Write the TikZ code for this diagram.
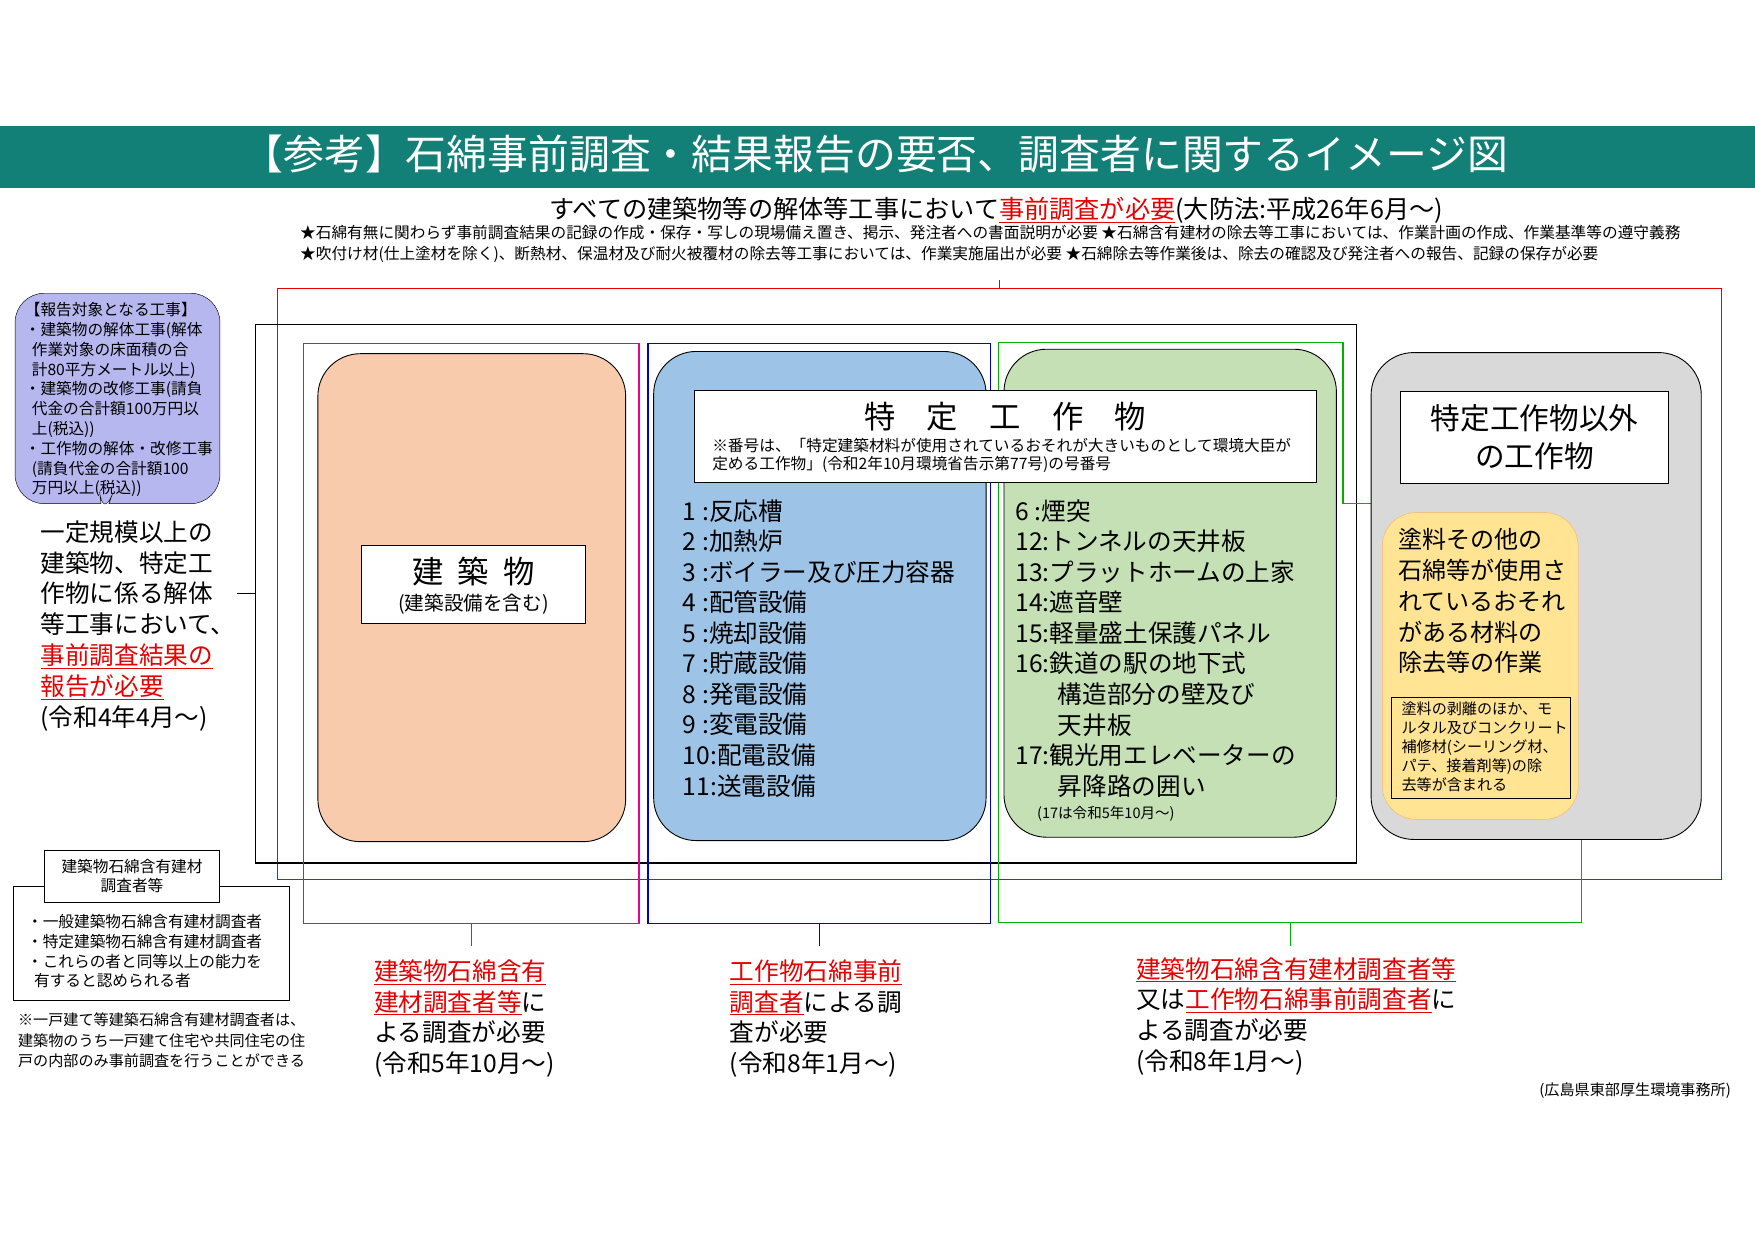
\documentclass[tikz,border=0pt]{standalone}
\usepackage{fontspec}
\setmainfont{Noto Sans CJK JP}
\usetikzlibrary{shapes.callouts}
\definecolor{teal}{RGB}{18,128,118}
\definecolor{peach}{RGB}{247,203,172}
\definecolor{sky}{RGB}{157,195,230}
\definecolor{mint}{RGB}{197,224,180}
\definecolor{lgray}{RGB}{217,217,217}
\definecolor{lav}{RGB}{183,183,240}
\definecolor{gold}{RGB}{255,217,102}
\definecolor{rd}{RGB}{230,0,0}
\newcommand{\ru}[1]{\textcolor{rd}{\underline{#1}}}
\tikzset{
 rbox/.style={draw=black,rounded corners=38pt,line width=0.8pt},
 wbox/.style={draw=black,fill=white,line width=0.8pt,align=center},
 txt/.style={align=left,anchor=north west,inner sep=0pt},
}
\begin{document}
\begin{tikzpicture}[x=1pt,y=-1pt]
\useasboundingbox (0,0) rectangle (1568,1108);
\fill[white] (0,0) rectangle (1568,1108);
\fill[teal] (0,113) rectangle (1568,168);
\node[text=white,font=\fontsize{36.5}{38}\selectfont] (title) at (782,138) {【参考】石綿事前調査・結果報告の要否、調査者に関するイメージ図};
\node[font=\fontsize{22.5}{24}\selectfont] (head) at (890,188) {すべての建築物等の解体等工事において\ru{事前調査が必要}(大防法:平成26年6月～)};
\node[txt,font=\fontsize{14}{19}\selectfont] (stars) at (268,201) {★石綿有無に関わらず事前調査結果の記録の作成・保存・写しの現場備え置き、掲示、発注者への書面説明が必要\ ★石綿含有建材の除去等工事においては、作業計画の作成、作業基準等の遵守義務\\★吹付け材(仕上塗材を除く)、断熱材、保温材及び耐火被覆材の除去等工事においては、作業実施届出が必要\ ★石綿除去等作業後は、除去の確認及び発注者への報告、記録の保存が必要};
% outer frames
\draw[rd,line width=1.2pt] (248,258) rectangle (1538,786);
\draw[rd,line width=1pt] (893,258) -- (893,250);
\draw[black,line width=1.2pt] (228,290) rectangle (1212,771);
\draw[black,line width=1pt] (228,530) -- (212,530);
\draw[magenta,line width=1.2pt] (271,307) rectangle (571,825);
\draw[blue!80!black,line width=1.2pt] (579,307) rectangle (885,825);
\draw[green!70!black,line width=1.2pt] (892,306) -- (1200,306) -- (1200,450) -- (1413,450) -- (1413,824) -- (892,824) -- cycle;
\draw[magenta,line width=1pt] (421,825) -- (421,845);
\draw[blue!80!black,line width=1pt] (732,825) -- (732,845);
\draw[green!70!black,line width=1pt] (1153,824) -- (1153,845);
% rounded boxes
\draw[rbox,fill=peach] (284,316) rectangle (559,752);
\draw[rbox,fill=sky] (584,314) rectangle (881,751);
\draw[rbox,fill=mint] (897,312) rectangle (1194,748);
\draw[rbox,fill=lgray] (1225,315) rectangle (1520,750);
\draw[draw=orange!60,fill=gold!70,rounded corners=30pt] (1235,458) rectangle (1410,732);
% building
\node[wbox,minimum width=200pt,minimum height=70pt] (bld) at (423,522) {};
\node[font=\fontsize{28}{30}\selectfont] (bldt) at (423,511) {建\ \ 築\ \ 物};
\node[font=\fontsize{17.5}{19}\selectfont] (blds) at (423,540) {(建築設備を含む)};
% specific
\node[wbox,minimum width=556pt,minimum height=82pt] (spec) at (898,390) {};
\node[font=\fontsize{28}{30}\selectfont] (spect) at (898,372) {特\quad 定\quad 工\quad 作\quad 物};
\node[font=\fontsize{14}{16}\selectfont,align=left] (specs) at (895,407) {※番号は、「特定建築材料が使用されているおそれが大きいものとして環境大臣が\\定める工作物」(令和2年10月環境省告示第77号)の号番号};
\node[txt,font=\fontsize{22}{27.3}\selectfont] (lst1) at (610,446) {1\ :反応槽\\2\ :加熱炉\\3\ :ボイラー及び圧力容器\\4\ :配管設備\\5\ :焼却設備\\7\ :貯蔵設備\\8\ :発電設備\\9\ :変電設備\\10:配電設備\\11:送電設備};
\node[txt,font=\fontsize{22}{27.3}\selectfont] (lst2) at (907,446) {6\ :煙突\\12:トンネルの天井板\\13:プラットホームの上家\\14:遮音壁\\15:軽量盛土保護パネル\\16:鉄道の駅の地下式\\\hspace*{38pt}構造部分の壁及び\\\hspace*{38pt}天井板\\17:観光用エレベーターの\\\hspace*{38pt}昇降路の囲い};
\node[font=\fontsize{13}{14}\selectfont] (n17) at (988,727) {(17は令和5年10月～)};
% other
\node[wbox,minimum width=240pt,minimum height=82pt] (oth) at (1371,391) {};
\node[font=\fontsize{26.5}{34}\selectfont,align=center] (otht) at (1371,391) {特定工作物以外\\の工作物};
\node[txt,font=\fontsize{21.5}{27.5}\selectfont] (paint) at (1249,472) {塗料その他の\\石綿等が使用さ\\れているおそれ\\がある材料の\\除去等の作業};
\node[draw=black,fill=gold!70,minimum width=160pt,minimum height=90pt] (pbox) at (1323,668) {};
\node[txt,font=\fontsize{13.5}{17}\selectfont] (pt) at (1252,627) {塗料の剥離のほか、モ\\ルタル及びコンクリート\\補修材(シーリング材、\\パテ、接着剤等)の除\\去等が含まれる};
% callout
\node[rectangle callout,rounded corners=26pt,draw=black,fill=lav,minimum width=183pt,minimum height=188pt,callout absolute pointer={(92,465)}] (call) at (105,356) {};
\node[txt,font=\fontsize{14}{17.7}\selectfont] (callt) at (22,270) {【報告対象となる工事】\\・建築物の解体工事(解体\\\ \ 作業対象の床面積の合\\\ \ 計80平方メートル以上)\\・建築物の改修工事(請負\\\ \ 代金の合計額100万円以\\\ \ 上(税込))\\・工作物の解体・改修工事\\\ \ (請負代金の合計額100\\\ \ 万円以上(税込))};
\node[txt,font=\fontsize{22}{27.5}\selectfont] (rep) at (36,465) {一定規模以上の\\建築物、特定工\\作物に係る解体\\等工事において、\\\ru{事前調査結果の}\\\ru{報告が必要}\\(令和4年4月～)};
% surveyor boxes
\draw[black,line width=0.8pt] (12,792) rectangle (259,894);
\node[wbox,minimum width=157pt,minimum height=46pt,font=\fontsize{14}{17}\selectfont] (sv) at (118,783) {建築物石綿含有建材\\調査者等};
\node[txt,font=\fontsize{14}{17.5}\selectfont] (svl) at (24,817) {・一般建築物石綿含有建材調査者\\・特定建築物石綿含有建材調査者\\・これらの者と同等以上の能力を\\\ \ 有すると認められる者};
\node[txt,font=\fontsize{13.5}{18}\selectfont] (note) at (16,905) {※一戸建て等建築石綿含有建材調査者は、\\建築物のうち一戸建て住宅や共同住宅の住\\戸の内部のみ事前調査を行うことができる};
% bottom texts
\node[txt,font=\fontsize{22}{27.5}\selectfont] (b1) at (334,857) {\ru{建築物石綿含有}\\\ru{建材調査者等}に\\よる調査が必要\\(令和5年10月～)};
\node[txt,font=\fontsize{22}{27.5}\selectfont] (b2) at (652,857) {\ru{工作物石綿事前}\\\ru{調査者}による調\\査が必要\\(令和8年1月～)};
\node[txt,font=\fontsize{22}{27.5}\selectfont] (b3) at (1015,855) {\ru{建築物石綿含有建材調査者等}\\又は\ru{工作物石綿事前調査者}に\\よる調査が必要\\(令和8年1月～)};
\node[font=\fontsize{13.5}{15}\selectfont,anchor=east] (src) at (1550,974) {(広島県東部厚生環境事務所)};
\end{tikzpicture}
\end{document}
